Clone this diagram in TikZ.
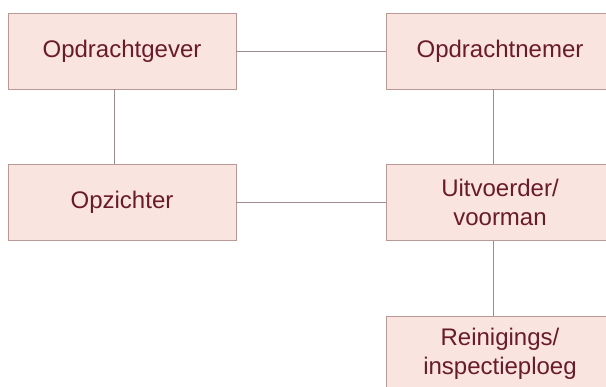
\documentclass[tikz,border=0pt]{standalone}
\usepackage{fontspec}
\setmainfont{Liberation Sans}
\usepackage{tikz}

\definecolor{boxfill}{HTML}{F9E4E0}
\definecolor{boxline}{HTML}{BA9896}
\definecolor{boxtext}{HTML}{6A1B2A}
\definecolor{linkline}{HTML}{9E8C8C}

\begin{document}
\begin{tikzpicture}[x=1pt, y=-1pt,
    every node/.style={font=\fontsize{24}{29}\selectfont},
    role/.style={draw=boxline, fill=boxfill, text=boxtext, line width=0.9pt,
        minimum width=228pt, minimum height=76pt, align=center, inner sep=0pt},
    link/.style={draw=linkline, line width=0.9pt}]
    % Page size
    \useasboundingbox (0,0) rectangle (606,387);

    % Columns of the vertical links
    \coordinate (lcol) at (114,0);
    \coordinate (rcol) at (493,0);

    % Boxes
    \node[role] (gever) at (122,51) {Opdrachtgever};
    \node[role] (nemer) at (500,51) {Opdrachtnemer};
    \node[role] (opz) at (122,202.5) {Opzichter};
    \node[role] (uitv) at (500,202.5) {Uitvoerder/\\voorman};
    \node[role] (ploeg) at (500,354) {Reinigings/\\inspectieploeg};

    % Links between boxes
    \draw[link] (gever.east) -- (nemer.west);
    \draw[link] (opz.east) -- (uitv.west);
    \draw[link] (gever.south -| lcol) -- (opz.north -| lcol);
    \draw[link] (nemer.south -| rcol) -- (uitv.north -| rcol);
    \draw[link] (uitv.south -| rcol) -- (ploeg.north -| rcol);
\end{tikzpicture}
\end{document}
